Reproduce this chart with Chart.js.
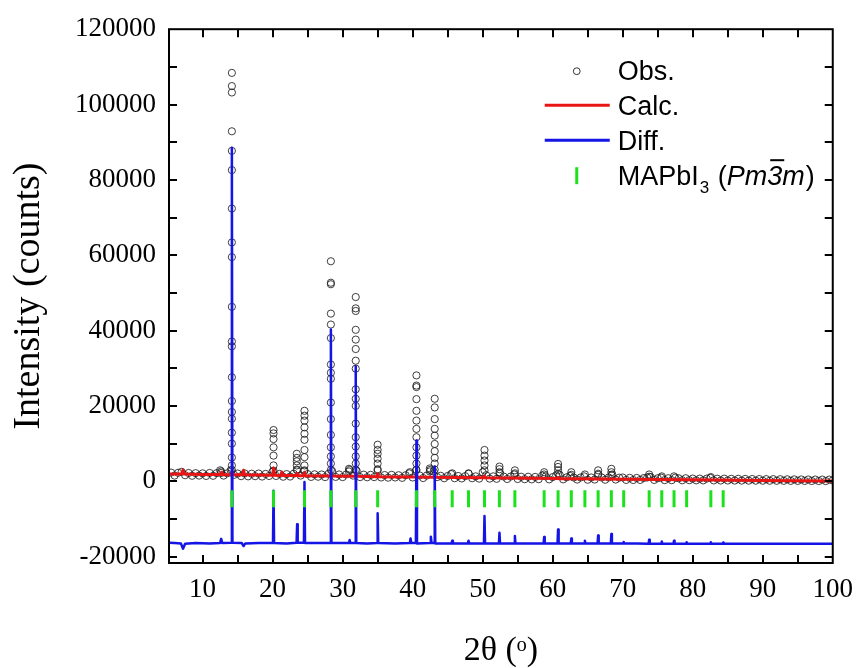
<!DOCTYPE html>
<html>
<head>
<meta charset="utf-8">
<title>MAPbI3 XRD refinement</title>
<script src="https://cdn.jsdelivr.net/npm/chart.js@4.4.1/dist/chart.umd.min.js"></script>
<style>
  html, body { margin: 0; padding: 0; background: #fff; }
  #wrap { width: 864px; height: 668px; }
</style>
</head>
<body>
<div id="wrap"><canvas id="xrdChart"></canvas></div>
<script>
// XRD pattern of MAPbI3 – observed / calculated / difference + Bragg positions

// axis labels and tick marks
const xLabels = [10, 20, 30, 40, 50, 60, 70, 80, 90, 100];
const yLabels = [-20000, 0, 20000, 40000, 60000, 80000, 100000, 120000];
const xTickMarks = [10, 15, 20, 25, 30, 35, 40, 45, 50, 55, 60, 65, 70, 75, 80, 85, 90, 95];
const yTickMarks = [-20000, -10000, 0, 10000, 20000, 30000, 40000, 50000, 60000, 70000, 80000, 90000, 100000, 110000];

// observed background, step scan from 5.5 deg every 0.5 deg
const bgStart = 5.5, bgStep = 0.5;
const bgCounts = [
  2300, 1500, 2250, 2500, 1600, 2200, 1450, 2150, 1500,
  2100, 1400, 2200, 1450, 2150, 2900, 1500, 2100, 2900, 1700,
  2050, 1350, 2100, 1300, 2000, 1350, 2050, 1250, 1950, 1400,
  2600, 1400, 1950, 1200, 1900, 1250, 2000, 2900, 1500, 2700,
  1900, 1150, 1850, 1200, 1800, 1100, 2000, 2700, 1150, 1800,
  1100, 1800, 3000, 1500, 2800, 1100, 1750, 1050, 1700, 1100,
  2900, 1000, 1650, 950, 1700, 1000, 1600, 900, 1600, 2100,
  1000, 3000, 1550, 850, 1500, 3000, 2600, 1100, 1450, 800,
  1400, 1900, 800, 1400, 750, 1350, 2000, 800, 1300, 700,
  2400, 1600, 700, 1300, 650, 2100, 1250, 600, 1250, 1800,
  600, 1200, 550, 1200, 500, 1150, 550, 1500, 1300, 500,
  1100, 1600, 1700, 500, 1050, 1400, 1000, 450, 1000, 1300,
  400, 1000, 450, 1700, 1000, 400, 1000, 1800, 450, 950,
  1000, 350, 900, 330, 880, 350, 850, 1000, 1100, 350,
  800, 950, 300, 800, 280, 950, 780, 260, 800, 280,
  720, 240, 700, 230, 700, 900, 220, 680, 200, 700,
  200, 650, 180, 640, 170, 620, 160, 600, 150, 580,
  140, 570, 130, 560, 120, 540, 110, 520, 100, 500,
  90, 480, 80, 470, 70, 460, 60, 450, 50, 440,
  200
];

// observed points stacked on each reflection
const peakPos = [12.65, 14.18, 20.13, 23.45, 24.55, 28.32, 30.9, 31.87, 35.0, 39.6, 40.54, 42.45, 43.15, 45.65,
                 47.98, 50.26, 52.4, 54.6, 58.78, 60.77, 62.66, 64.6, 66.49, 68.38, 73.78, 75.58, 77.33, 82.59];
const peakCounts = [
  [2600, 2200],
  [108400, 104900, 103200, 92900, 87700, 82600, 72400, 63400, 59500, 46300, 37100, 35800, 27600, 21300, 18400, 16600, 12900, 10000, 6300, 4200, 3000],
  [13600, 12700, 11200, 9000, 6800, 4200, 2800],
  [7300, 6200, 5300, 4200, 3100],
  [18700, 17400, 16100, 14300, 12600, 11000, 8300, 6400, 4200, 2900],
  [58400, 52700, 52300, 44500, 41600, 38000, 31000, 28800, 27200, 20900, 16500, 12300, 9000, 6600, 4700, 3000],
  [3300, 2600],
  [48900, 45900, 45200, 40200, 37600, 35100, 32000, 29900, 24400, 21900, 20000, 15300, 11700, 9200, 6600, 4700, 3000],
  [9700, 8300, 7300, 6000, 4700, 3200],
  [2400],
  [28100, 25400, 25000, 21800, 18700, 16100, 13900, 11700, 9000, 6800, 4700, 3000],
  [3400, 2600],
  [21900, 19600, 16500, 13900, 12100, 9900, 8000, 6200, 4700, 3100],
  [2100],
  [2100],
  [8300, 6800, 5500, 4200, 2900],
  [3900, 3200, 2400],
  [2900, 2100],
  [2400, 1800],
  [4600, 3800, 2900, 2000],
  [2400, 1700],
  [1800],
  [2900, 2000],
  [3300, 2400, 1600],
  [1800, 1200],
  [1300],
  [1300],
  [1100]
];

// calculated profile [2theta, counts]
const calcPts = [
  [5.2, 1900], [7.0, 1950], [7.2, 3000], [7.4, 1950], [10, 1800],
  [12.55, 1800], [12.7, 2400], [12.85, 1780], [14.08, 1750], [14.18, 2600], [14.28, 1750],
  [15.7, 1700], [15.85, 2900], [16.0, 1700], [20.0, 1600], [20.13, 3500], [20.26, 1600],
  [21.15, 1560], [21.3, 2400], [21.45, 1560], [23.4, 1500], [23.5, 2000], [23.6, 1500],
  [24.45, 1480], [24.55, 2400], [24.65, 1480], [28.22, 1380], [28.32, 2300], [28.42, 1380],
  [31.77, 1300], [31.87, 2200], [31.97, 1300], [34.9, 1220], [35.0, 2000], [35.1, 1220],
  [40.44, 1100], [40.54, 1800], [40.64, 1100], [43.05, 1050], [43.15, 1600], [43.25, 1050],
  [50.16, 900], [50.26, 1400], [50.36, 900], [60.67, 700], [60.77, 1000], [60.87, 700],
  [70, 550], [80, 380], [90, 180], [100, 50]
];

// difference curve (offset) [2theta, counts]
const diffPts = [
  [5.2, -16300], [6.0, -16400], [6.9, -16500], [7.2, -17900], [7.5, -16600], [9.0, -16400], [11.0, -16500],
  [12.5, -16400], [12.65, -15300], [12.8, -16400],
  [14.1, -16300], [14.18, 88500], [14.26, -16300],
  [15.6, -16400], [15.85, -17200], [16.1, -16500], [18.0, -16400],
  [20.05, -16400], [20.13, -2500], [20.21, -16400], [22.0, -16500],
  [23.42, -16300], [23.5, -11400], [23.58, -16300],
  [24.47, -16300], [24.55, -200], [24.63, -16400], [26.5, -16400],
  [28.24, -16400], [28.32, 40300], [28.4, -16400],
  [30.9, -16400], [31.0, -15600], [31.1, -16400],
  [31.79, -16400], [31.87, 30500], [31.95, -16400], [33.5, -16500],
  [34.92, -16400], [35.0, -8500], [35.08, -16400], [37.5, -16500],
  [39.6, -16400], [39.7, -15200], [39.8, -16400],
  [40.46, -16400], [40.54, 10800], [40.62, -16500],
  [42.5, -16400], [42.6, -14700], [42.7, -16400],
  [43.07, -16400], [43.15, 3900], [43.23, -16500],
  [45.55, -16500], [45.65, -15800], [45.75, -16500],
  [47.88, -16500], [47.98, -15800], [48.08, -16500],
  [50.18, -16500], [50.26, -9200], [50.34, -16500],
  [52.32, -16500], [52.4, -13700], [52.48, -16500],
  [54.52, -16500], [54.6, -14500], [54.68, -16500], [56.5, -16500],
  [58.7, -16500], [58.78, -14800], [58.86, -16500],
  [60.69, -16500], [60.77, -12800], [60.85, -16500],
  [62.58, -16500], [62.66, -15200], [62.74, -16500],
  [64.52, -16500], [64.6, -15800], [64.68, -16500],
  [66.41, -16500], [66.49, -14400], [66.57, -16500],
  [68.3, -16500], [68.38, -14000], [68.46, -16500],
  [70.06, -16500], [70.14, -16100], [70.22, -16500], [72, -16500],
  [73.7, -16600], [73.78, -15500], [73.86, -16600],
  [75.5, -16600], [75.58, -16000], [75.66, -16600],
  [77.25, -16600], [77.33, -15800], [77.41, -16600],
  [79.05, -16600], [79.13, -16200], [79.21, -16600],
  [82.51, -16600], [82.59, -16200], [82.67, -16600],
  [84.27, -16600], [84.35, -16300], [84.43, -16600],
  [88, -16600], [92, -16600], [96, -16600], [100, -16600]
];

// Bragg reflections of cubic MAPbI3 (Pm-3m)
const braggPos = [14.18, 20.13, 24.55, 28.32, 31.87, 35.0, 40.54, 43.15, 45.65, 47.98, 50.26, 52.39, 54.6,
                  58.78, 60.77, 62.66, 64.6, 66.49, 68.38, 70.14, 73.78, 75.58, 77.33, 79.13, 82.59, 84.35];
const braggTop = -2400, braggBottom = -6900;

const serif = "'Liberation Serif', 'Times New Roman', serif";
const sans = "'Liberation Sans', Arial, sans-serif";

const obsData = bgCounts.map((c, i) => ({ x: bgStart + i * bgStep, y: c }));
peakPos.forEach((p, k) => peakCounts[k].forEach(c => obsData.push({ x: p, y: c })));

const braggData = [];
braggPos.forEach(p => {
  braggData.push({ x: p, y: braggTop }, { x: p, y: braggBottom }, { x: p, y: null });
});

// box frame with inward ticks on all four sides
const frameTicks = {
  id: "frameTicks",
  afterDatasetsDraw(chart) {
    const { ctx, chartArea: a, scales: { x, y } } = chart;
    const len = 8;
    ctx.save();
    ctx.strokeStyle = "#000";
    ctx.lineWidth = 2;
    ctx.beginPath();
    xTickMarks.forEach(v => {
      const px = Math.round(x.getPixelForValue(v));
      ctx.moveTo(px, a.bottom); ctx.lineTo(px, a.bottom - len);
      ctx.moveTo(px, a.top); ctx.lineTo(px, a.top + len);
    });
    yTickMarks.forEach(v => {
      const py = Math.round(y.getPixelForValue(v));
      ctx.moveTo(a.left, py); ctx.lineTo(a.left + len, py);
      ctx.moveTo(a.right, py); ctx.lineTo(a.right - len, py);
    });
    ctx.stroke();
    ctx.strokeRect(a.left, a.top, a.right - a.left, a.bottom - a.top);
    ctx.restore();
  }
};

// legend with subscript / italic space group
const legendBox = {
  id: "legendBox",
  afterDraw(chart) {
    const { ctx, chartArea: a } = chart;
    const tx = a.right - 215;
    const mx = a.right - 256;
    const base = [a.top + 51, a.top + 86, a.top + 121, a.top + 156];
    ctx.save();
    ctx.fillStyle = "#000";
    ctx.textBaseline = "alphabetic";
    ctx.font = `27px ${sans}`;
    ctx.fillText("Obs.", tx, base[0]);
    ctx.fillText("Calc.", tx, base[1]);
    ctx.fillText("Diff.", tx, base[2]);

    // markers
    ctx.strokeStyle = "#333"; ctx.lineWidth = 1;
    ctx.beginPath(); ctx.arc(mx, base[0] - 9, 3.4, 0, Math.PI * 2); ctx.stroke();
    ctx.lineWidth = 3;
    ctx.strokeStyle = "rgb(235,20,20)";
    ctx.beginPath(); ctx.moveTo(mx - 32, base[1] - 10); ctx.lineTo(mx + 33, base[1] - 10); ctx.stroke();
    ctx.strokeStyle = "rgb(20,20,230)";
    ctx.beginPath(); ctx.moveTo(mx - 32, base[2] - 10); ctx.lineTo(mx + 33, base[2] - 10); ctx.stroke();
    ctx.strokeStyle = "rgb(30,225,30)";
    ctx.beginPath(); ctx.moveTo(mx, base[3] - 18); ctx.lineTo(mx, base[3] - 1); ctx.stroke();

    // MAPbI3 (Pm-3m)
    let x = tx;
    const b = base[3];
    ctx.font = `27px ${sans}`;
    ctx.fillText("MAPbI", x, b); x += ctx.measureText("MAPbI").width + 1;
    ctx.font = `17px ${sans}`;
    ctx.fillText("3", x, b + 8); x += ctx.measureText("3").width + 1;
    ctx.font = `27px ${sans}`;
    ctx.fillText(" (", x, b); x += ctx.measureText(" (").width;
    ctx.font = `italic 27px ${sans}`;
    ctx.fillText("Pm", x, b); x += ctx.measureText("Pm").width;
    const w3 = ctx.measureText("3").width;
    ctx.fillText("3", x, b);
    ctx.fillRect(x + 3, b - 26, w3 - 1, 2);
    x += w3;
    ctx.fillText("m", x, b); x += ctx.measureText("m").width + 1;
    ctx.font = `27px ${sans}`;
    ctx.fillText(")", x, b);
    ctx.restore();
  }
};

const ctx = document.getElementById("xrdChart").getContext("2d");

new Chart(ctx, {
  type: "scatter",
  data: {
    datasets: [
      {
        label: "Obs.",
        data: obsData,
        showLine: false,
        pointStyle: "circle",
        pointRadius: 3.6,
        pointHoverRadius: 3.6,
        pointBackgroundColor: "rgba(255,255,255,0)",
        pointBorderColor: "rgba(30,30,30,0.85)",
        pointBorderWidth: 1,
        order: 4,
      },
      {
        label: "Calc.",
        data: calcPts.map(p => ({ x: p[0], y: p[1] })),
        showLine: true,
        borderColor: "rgb(235,20,20)",
        borderWidth: 3,
        borderJoinStyle: "round",
        pointRadius: 0,
        pointHoverRadius: 0,
        tension: 0,
        order: 3,
      },
      {
        label: "Diff.",
        data: diffPts.map(p => ({ x: p[0], y: p[1] })),
        showLine: true,
        borderColor: "rgb(20,20,230)",
        borderWidth: 2.5,
        borderJoinStyle: "round",
        pointRadius: 0,
        pointHoverRadius: 0,
        tension: 0,
        order: 2,
      },
      {
        label: "MAPbI3 (Pm-3m)",
        data: braggData,
        showLine: true,
        spanGaps: false,
        borderColor: "rgb(30,225,30)",
        borderWidth: 3,
        borderCapStyle: "butt",
        pointRadius: 0,
        pointHoverRadius: 0,
        order: 1,
      },
    ],
  },
  options: {
    responsive: true,
    maintainAspectRatio: false,
    animation: false,
    events: [],
    layout: { padding: { left: 0, right: 27, top: 27, bottom: 0 } },
    plugins: {
      legend: { display: false },
      tooltip: { enabled: false },
    },
    scales: {
      x: {
        type: "linear",
        min: 5.2,
        max: 100,
        afterBuildTicks: s => { s.ticks = xLabels.map(v => ({ value: v })); },
        afterFit: s => { s.height = 105; },
        grid: { display: false, drawTicks: false },
        border: { display: false },
        ticks: {
          color: "#000",
          padding: 11,
          autoSkip: false,
          maxRotation: 0,
          font: { family: serif, size: 27 },
          callback: v => String(v),
        },
        title: {
          display: true,
          text: "2θ (ᵒ)",
          color: "#000",
          padding: { top: 0, bottom: 0 },
          font: { family: serif, size: 34, lineHeight: 1 },
        },
      },
      y: {
        type: "linear",
        min: -21700,
        max: 120000,
        afterBuildTicks: s => { s.ticks = yLabels.map(v => ({ value: v })); },
        afterFit: s => { s.width = 169; },
        grid: { display: false, drawTicks: false },
        border: { display: false },
        ticks: {
          color: "#000",
          padding: 13,
          font: { family: serif, size: 27 },
          callback: v => String(v),
        },
        title: {
          display: true,
          text: "Intensity (counts)",
          color: "#000",
          padding: { top: 10, bottom: 0 },
          font: { family: serif, size: 38, lineHeight: 1 },
        },
      },
    },
  },
  plugins: [frameTicks, legendBox],
});
</script>
</body>
</html>
